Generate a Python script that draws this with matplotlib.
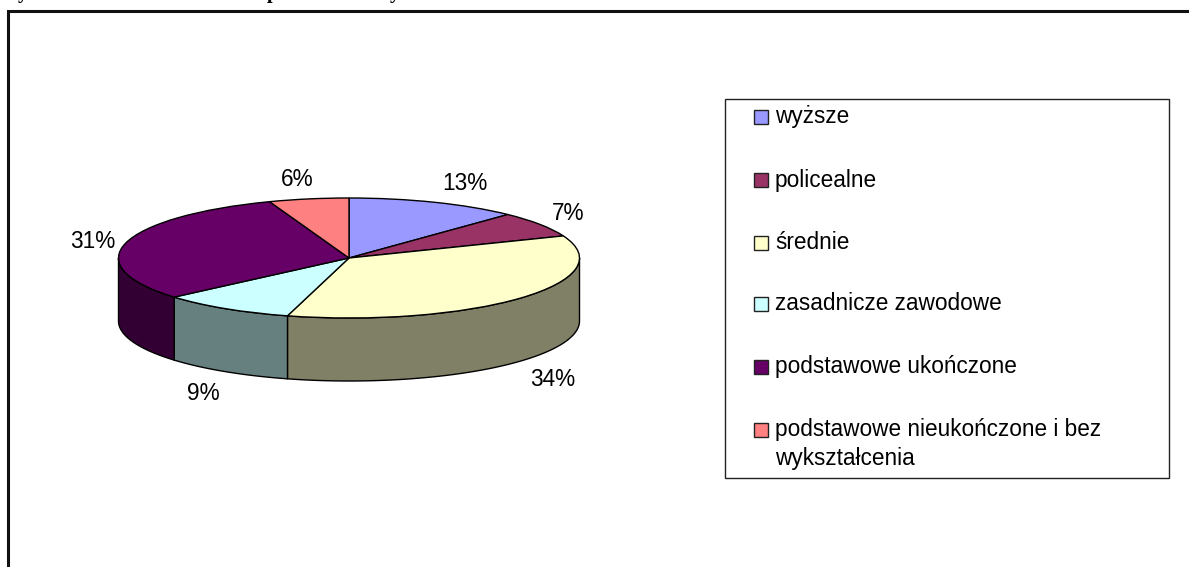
import numpy as np
import matplotlib
matplotlib.use("Agg")
import matplotlib.pyplot as plt
from matplotlib.patches import Polygon, Rectangle

W, H = 1189, 567
categories = ["wyższe", "policealne", "średnie", "zasadnicze zawodowe",
              "podstawowe ukończone", "podstawowe nieukończone i bez\nwykształcenia"]
values = [12.1, 6.9, 35.3, 9.4, 30.7, 5.6]
labels = ["13%", "7%", "34%", "9%", "31%", "6%"]
top_colors = ["#9999FF", "#993366", "#FFFFCC", "#CCFFFF", "#660066", "#FF8080"]
side_colors = ["#666699", "#662244", "#808066", "#668080", "#330033", "#804040"]

plt.rcParams["font.family"] = ["Liberation Sans", "DejaVu Sans"]
fig = plt.figure(figsize=(W / 100, H / 100), dpi=100, facecolor="white")

# page layer in pixel coordinates
page = fig.add_axes([0, 0, 1, 1])
page.set_xlim(0, W)
page.set_ylim(H, 0)
page.axis("off")
page.plot([8, 8, W + 5], [H + 5, 11, 11], color="#111111", lw=2.2, solid_joinstyle="miter", clip_on=True)
for x, ch in [(23, "y"), (272, "p"), (395, "y")]:
    page.text(x, -2, ch, family="Liberation Serif", weight="bold", fontsize=14.5, ha="center",
              va="baseline", clip_on=True)

# pie axes: unit circle maps to the ellipse of the pie's top face
cx, cy, rx, ry, depth = 349, 258, 230.5, 60, 63
ax = fig.add_axes([(cx - rx) / W, 1 - (cy + ry) / H, 2 * rx / W, 2 * ry / H])
ax.set_xlim(-1, 1)
ax.set_ylim(-1, 1)
ax.axis("off")
d = depth / ry

fr = np.cumsum([0] + values) / sum(values)
# side walls: front half only (angles measured clockwise from 12 o'clock)
for i in range(len(values)):
    a0, a1 = 2 * np.pi * fr[i], 2 * np.pi * fr[i + 1]
    a0v, a1v = max(a0, np.pi / 2), min(a1, 3 * np.pi / 2)
    if a1v <= a0v:
        continue
    t = np.linspace(a0v, a1v, 120)
    xs, ys = np.sin(t), np.cos(t)
    pts = np.r_[np.c_[xs, ys], np.c_[xs, ys - d][::-1]]
    ax.add_patch(Polygon(pts, closed=True, facecolor=side_colors[i], edgecolor="black", lw=1.0, clip_on=False))

wedges, _ = ax.pie(values, colors=top_colors, startangle=90, counterclock=False, radius=1,
                   wedgeprops=dict(edgecolor="black", linewidth=1.0, clip_on=False), frame=True)
ax.set_aspect("auto")
ax.set_xlim(-1, 1)
ax.set_ylim(-1, 1)
ax.axis("off")

FS = 16.3
# percent labels (pixel positions of their centres)
label_xy = [(465, 183), (568, 214), (553, 380), (203, 393), (93, 241), (297, 180)]
for (x, y), s in zip(label_xy, labels):
    page.text(x, y, s, ha="center", va="center", fontsize=FS, color="black", zorder=5)
page.set_zorder(3)
page.patch.set_visible(False)

# legend box
page.add_patch(Rectangle((724.5, 98.5), 444, 379, facecolor="none", edgecolor="#222222", lw=1.0))
swatch_y = [116.5, 180, 243, 304, 367, 430]
base_y = [123.5, 186.7, 249, 310.5, 373, 465]
for y, b, c, s in zip(swatch_y, base_y, top_colors, categories):
    page.add_patch(Rectangle((753.5, y - 7), 14, 14, facecolor=c, edgecolor="#222222", lw=1.0))
    page.text(775, b, s, ha="left", va="baseline", fontsize=FS, color="black", linespacing=1.36)

fig.savefig("out.png", dpi=100, facecolor="white")
